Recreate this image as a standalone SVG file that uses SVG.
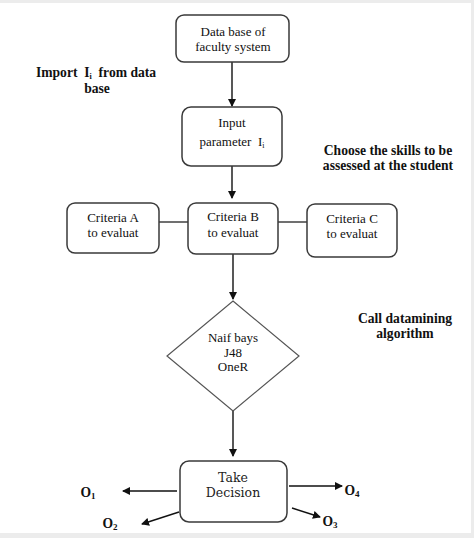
<svg xmlns="http://www.w3.org/2000/svg" width="474" height="538" viewBox="0 0 474 538">
<style>
.box{fill:#fff;stroke:#3a3a3a;stroke-width:1.5}
.dia{fill:#fff;stroke:#555;stroke-width:1.2}
.t{font-family:"Liberation Serif",serif;font-size:13px;fill:#111;text-anchor:middle}
.td{font-family:"DejaVu Serif","Liberation Serif",serif;font-size:12.5px;fill:#222;text-anchor:middle}
.b{font-family:"Liberation Serif",serif;font-size:13.6px;font-weight:bold;fill:#111;text-anchor:middle}
.c{stroke:#111;stroke-width:1.4;fill:none}
.l{stroke:#333;stroke-width:1.4;fill:none}
</style>
<defs>
<marker id="ah" markerWidth="8" markerHeight="8" refX="7" refY="4" orient="auto" markerUnits="userSpaceOnUse">
<path d="M0,0 L8,4 L0,8 Z" fill="#111"/>
</marker>
</defs>
<rect x="0" y="0" width="474" height="538" fill="#ececec"/>
<rect x="0" y="3" width="471" height="530" fill="#fff"/>

<g id="connectors">
<line class="c" x1="232" y1="62" x2="232" y2="106" marker-end="url(#ah)"/>
<line class="c" x1="232" y1="166" x2="232" y2="198" marker-end="url(#ah)"/>
<line class="l" x1="159" y1="222" x2="188" y2="222"/>
<line class="l" x1="278" y1="222" x2="307" y2="222"/>
<line class="c" x1="233" y1="254" x2="233" y2="299" marker-end="url(#ah)"/>
<line class="c" x1="233" y1="411" x2="233" y2="456" marker-end="url(#ah)"/>
<line class="c" x1="177" y1="491" x2="123" y2="491" marker-end="url(#ah)"/>
<line class="c" x1="179" y1="512" x2="142" y2="524" marker-end="url(#ah)"/>
<line class="c" x1="289" y1="486" x2="342" y2="486" marker-end="url(#ah)"/>
<line class="c" x1="292" y1="508" x2="320" y2="517" marker-end="url(#ah)"/>
</g>

<g id="database">
<rect class="box" x="176" y="15" width="113" height="47" rx="8"/>
<text class="t" x="233" y="36">Data base of</text>
<text class="t" x="233" y="51">faculty system</text>
</g>

<g id="input">
<rect class="box" x="182" y="107" width="100" height="59" rx="9"/>
<text class="t" x="232" y="127">Input</text>
<text class="t" x="232" y="146" xml:space="preserve">parameter  I<tspan font-size="8" dy="2">i</tspan></text>
</g>

<g id="criteriaA">
<rect class="box" x="67" y="203" width="92" height="50" rx="8"/>
<text class="t" x="113" y="222">Criteria A</text>
<text class="t" x="113" y="237">to evaluat</text>
</g>

<g id="criteriaB">
<rect class="box" x="188" y="203" width="90" height="51" rx="8"/>
<text class="t" x="233" y="221">Criteria B</text>
<text class="t" x="233" y="237">to evaluat</text>
</g>

<g id="criteriaC">
<rect class="box" x="307" y="204" width="90" height="53" rx="8"/>
<text class="t" x="352" y="223">Criteria C</text>
<text class="t" x="352" y="238">to evaluat</text>
</g>

<g id="algorithms">
<polygon class="dia" points="233,301 299,356 233,411 167,356"/>
<text class="t" x="233" y="342">Naif bays</text>
<text class="t" x="233" y="357">J48</text>
<text class="t" x="233" y="371">OneR</text>
</g>

<g id="decision">
<rect class="box" x="180" y="461" width="107" height="61" rx="9"/>
<text class="td" x="233" y="482">Take</text>
<text class="td" x="233" y="497">Decision</text>
</g>

<g id="labels">
<text class="b" x="96" y="77" xml:space="preserve">Import  I<tspan font-size="8" dy="2">i</tspan><tspan dy="-2">  from data</tspan></text>
<text class="b" x="97" y="93">base</text>
<text class="b" x="388" y="155">Choose the skills to be</text>
<text class="b" x="388" y="170">assessed at the student</text>
<text class="b" x="405" y="323">Call datamining</text>
<text class="b" x="405" y="338">algorithm</text>
<text class="b" x="88" y="497" text-anchor="start">O<tspan font-size="9" dy="2">1</tspan></text>
<text class="b" x="110" y="528" text-anchor="start">O<tspan font-size="9" dy="2">2</tspan></text>
<text class="b" x="330" y="526" text-anchor="start">O<tspan font-size="9" dy="2">3</tspan></text>
<text class="b" x="352" y="495" text-anchor="start">O<tspan font-size="9" dy="2">4</tspan></text>
</g>
</svg>
